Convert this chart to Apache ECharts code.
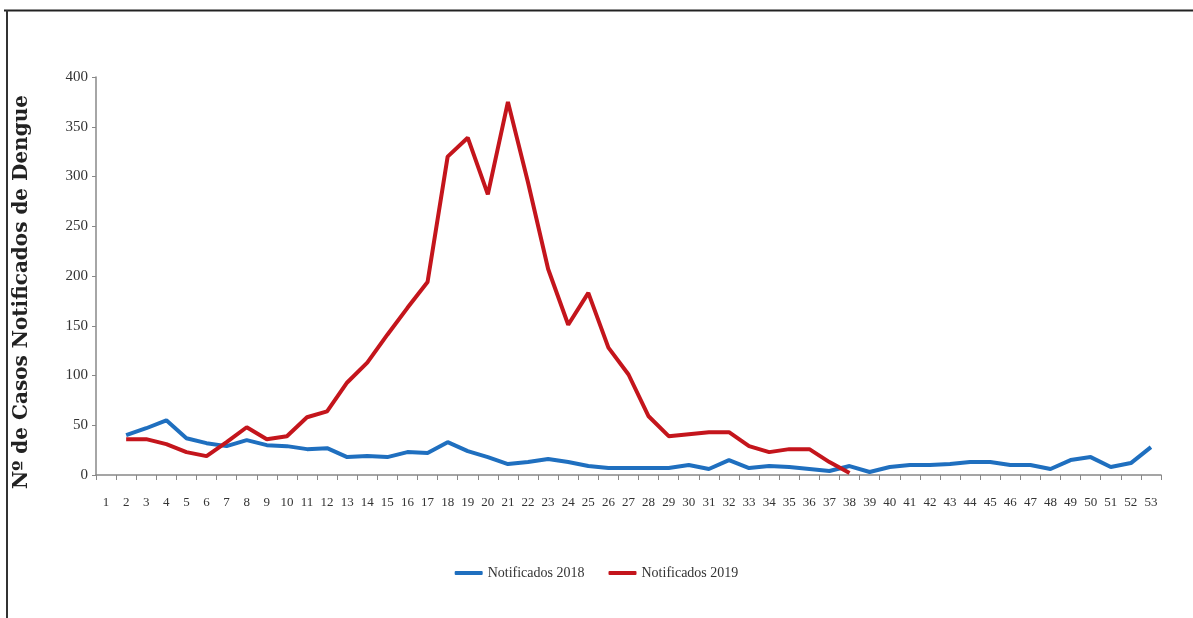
<!DOCTYPE html>
<html>
<head>
<meta charset="utf-8">
<script src="https://cdn.jsdelivr.net/npm/echarts@6/dist/echarts.min.js"></script>
<style>
html,body{margin:0;padding:0;background:#fff;}
#chart{width:1193px;height:618px;}
</style>
</head>
<body>
<div id="chart"></div>
<script>
const weeks = Array.from({length: 53}, (_, i) => String(i + 1));
const notif2018 = [null, 40, 47, 55, 37, 32, 29, 35, 30, 29, 26, 27, 18, 19, 18, 23, 22, 33, 24, 18, 11, 13, 16, 13, 9, 7, 7, 7, 7, 10, 6, 15, 7, 9, 8, 6, 4, 9, 3, 8, 10, 10, 11, 13, 13, 10, 10, 6, 15, 18, 8, 12, 28];
const notif2019 = [null, 36, 36, 31, 23, 19, 33, 48, 36, 39, 58, 64, 93, 113, 141, 168, 194, 320, 339, 282, 375, 294, 207, 151, 183, 128, 101, 59, 39, 41, 43, 43, 29, 23, 26, 26, 13, 2];
const yTicks = [0, 50, 100, 150, 200, 250, 300, 350, 400];
const yTitle = 'Nº de Casos Notificados de Dengue';

const serif = '"Liberation Serif", "DejaVu Serif", serif';
const chart = echarts.init(document.getElementById('chart'));
chart.setOption({
  animation: false,
  backgroundColor: '#fff',
  grid: {left: 96, right: 32, top: 77, bottom: 143, containLabel: false},
  legend: {
    bottom: 33, left: 'center',
    itemWidth: 28, itemHeight: 4, itemGap: 24,
    icon: 'roundRect',
    textStyle: {fontFamily: serif, fontSize: 14, color: '#333'},
    data: ['Notificados 2018', 'Notificados 2019']
  },
  xAxis: {
    type: 'category', data: weeks, boundaryGap: true,
    axisLine: {lineStyle: {color: '#888', width: 1.5}},
    axisTick: {show: true, length: 5, lineStyle: {color: '#888'}},
    axisLabel: {fontFamily: serif, fontSize: 13, color: '#333', margin: 21, interval: 0}
  },
  yAxis: {
    type: 'value', min: yTicks[0], max: yTicks[yTicks.length - 1], interval: 50,
    splitLine: {show: false},
    axisLine: {show: true, lineStyle: {color: '#888', width: 1.5}},
    axisTick: {show: true, length: 4, lineStyle: {color: '#888'}},
    axisLabel: {fontFamily: serif, fontSize: 15, color: '#333', margin: 8}
  },
  series: [
    {name: 'Notificados 2018', type: 'line', data: notif2018, showSymbol: false, symbol: 'none',
     lineStyle: {color: '#1f6fbf', width: 4}, itemStyle: {color: '#1f6fbf'}},
    {name: 'Notificados 2019', type: 'line', data: notif2019, showSymbol: false, symbol: 'none',
     lineStyle: {color: '#c4151c', width: 4}, itemStyle: {color: '#c4151c'}}
  ],
  graphic: [
    {type: 'line', shape: {x1: 4, y1: 10.5, x2: 1193, y2: 10.5}, style: {stroke: '#222', lineWidth: 2}},
    {type: 'line', shape: {x1: 7, y1: 10, x2: 7, y2: 618}, style: {stroke: '#333', lineWidth: 2}},
    {type: 'text', x: 22, y: 292, rotation: Math.PI / 2,
     style: {text: yTitle, font: 'bold 20px "DejaVu Serif", serif', fill: '#222',
             textAlign: 'center', textVerticalAlign: 'middle'}}
  ]
});
</script>
</body>
</html>
